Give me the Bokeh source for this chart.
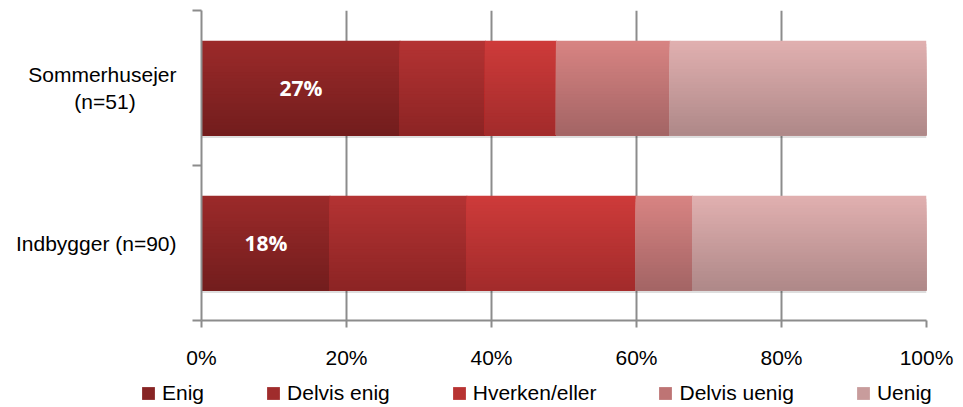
from bokeh.plotting import figure
from bokeh.layouts import column
from bokeh.models import (ColumnDataSource, Range1d, FixedTicker, PrintfTickFormatter,
                          Legend, LegendItem)
from bokeh.core.properties import value
from bokeh.embed import file_html
from bokeh.resources import INLINE

# ---- data ----
NBSP = "\u00a0"
categories = ["Sommerhusejer\n(n=51)" + NBSP * 7, "Indbygger (n=90)"]   # top to bottom
series = ["Enig", "Delvis enig", "Hverken/eller", "Delvis uenig", "Uenig"]
sommerhusejer = [27.45, 11.76, 9.80, 15.69, 35.29]
indbygger = [17.78, 18.89, 23.33, 7.78, 32.22]
tick_values = [0, 20, 40, 60, 80, 100]

values = [sommerhusejer, indbygger]
cat_pos = [1.5, 0.5]
top_colors = ["#9C2A2A", "#B43333", "#CE3B3A", "#D88483", "#E1B0B0"]
bot_colors = ["#721D1D", "#8C2424", "#A22B2B", "#A36464", "#AE8888"]
BAR_H = 0.61
N = 30


def hex2rgb(h):
    return tuple(int(h[i:i + 2], 16) for i in (1, 3, 5))


def mix(c1, c2, t):
    a, b = hex2rgb(c1), hex2rgb(c2)
    return "#%02x%02x%02x" % tuple(round(a[i] + (b[i] - a[i]) * t) for i in range(3))


p = figure(frame_width=725, frame_height=310, output_backend="svg", toolbar_location=None,
           x_range=Range1d(0, 100), y_range=Range1d(0, 2),
           min_border_left=201, min_border_right=28, min_border_top=10, min_border_bottom=56)
p.outline_line_color = None
p.background_fill_color = "white"
p.border_fill_color = "white"

# grid
p.xgrid.ticker = FixedTicker(ticks=tick_values)
p.xgrid.grid_line_color = "#8C8C8C"
p.xgrid.grid_line_width = 2
p.ygrid.grid_line_color = None

# shadow
p.hbar(y=[c - 0.018 for c in cat_pos], left=0, right=100.35, height=BAR_H,
       fill_color="#000000", fill_alpha=0.13, line_color=None)

# gradient segments: each strip runs from its own top down to the bar bottom
for si, name in enumerate(series):
    ys, hs, lefts, rights, cols = [], [], [], [], []
    for ci, vals in enumerate(values):
        start = sum(vals[:si])
        end = start + vals[si]
        bottom = cat_pos[ci] - BAR_H / 2
        for k in range(N):
            top = cat_pos[ci] + BAR_H / 2 - k * BAR_H / N
            t = (k + 0.5) / N
            ys.append((top + bottom) / 2)
            hs.append(top - bottom)
            lefts.append(start - (0.12 if si > 0 else 0))
            rights.append(end)
            cols.append(mix(top_colors[si], bot_colors[si], t))
    src = ColumnDataSource(dict(y=ys, h=hs, left=lefts, right=rights, color=cols))
    p.hbar(y="y", left="left", right="right", height="h",
           fill_color="color", line_color=None, source=src)

# data labels for "Enig"
lx = [v[0] / 2 for v in values]
lt = ["%d%%" % round(v[0]) for v in values]
p.text(x=lx, y=cat_pos, text=lt, text_color="white", text_font=value("Open Sans"),
       text_font_style="bold", text_font_size="21px", text_align="center",
       text_baseline="middle")

# x axis
xa = p.xaxis[0]
xa.ticker = FixedTicker(ticks=tick_values)
xa.formatter = PrintfTickFormatter(format="%d%%")
xa.axis_line_color = "#8C8C8C"
xa.axis_line_width = 2
xa.major_tick_line_color = "#8C8C8C"
xa.major_tick_line_width = 2
xa.major_tick_out = 7
xa.major_tick_in = 0
xa.minor_tick_line_color = None
xa.major_label_text_font = "Liberation Sans"
xa.major_label_text_font_size = "21px"
xa.major_label_text_color = "black"
xa.major_label_standoff = 18

# y axis
ya = p.yaxis[0]
ya.ticker = FixedTicker(ticks=cat_pos, minor_ticks=[0, 1, 2])
ya.major_label_overrides = {cat_pos[i]: categories[i] for i in range(len(categories))}
ya.axis_line_color = "#8C8C8C"
ya.axis_line_width = 2
ya.major_tick_line_color = None
ya.major_tick_out = 0
ya.major_tick_in = 0
ya.minor_tick_line_color = "#8C8C8C"
ya.minor_tick_line_width = 2
ya.minor_tick_out = 9
ya.minor_tick_in = 0
ya.major_label_text_font = "Liberation Sans"
ya.major_label_text_font_size = "21px"
ya.major_label_text_color = "black"
ya.major_label_standoff = 16

# ---- legend strip (separate small figure below; its own view range keeps the
#      series bars it carries out of sight, only the legend is shown) ----
lg = figure(width=954, height=29, output_backend="svg", toolbar_location=None,
            x_range=Range1d(0, 100), y_range=Range1d(10, 11),
            x_axis_location=None, y_axis_location=None,
            min_border_left=0, min_border_right=0, min_border_top=0, min_border_bottom=0)
lg.outline_line_color = None
lg.background_fill_alpha = 0
lg.border_fill_alpha = 0
lg.xgrid.grid_line_color = None
lg.ygrid.grid_line_color = None
for fig in (p, lg):
    try:
        fig.frame_align = False
    except Exception:
        pass
items = []
for si, name in enumerate(series):
    starts = [sum(v[:si]) for v in values]
    ends = [sum(v[:si + 1]) for v in values]
    r = lg.hbar(y=cat_pos, left=starts, right=ends, height=BAR_H,
                fill_color=mix(top_colors[si], bot_colors[si], 0.5), line_color=None)
    items.append(LegendItem(label=name, renderers=[r]))
legend = Legend(items=items, orientation="horizontal", location=(140, 0),
                glyph_width=16, glyph_height=16, label_standoff=6, spacing=61,
                label_text_font="Liberation Sans", label_text_font_size="21px",
                label_text_color="black", border_line_color=None,
                background_fill_alpha=0, padding=0, margin=0, label_height=22)
lg.add_layout(legend, "center")

layout = column(p, lg, spacing=0)
open("out.html", "w").write(file_html(layout, INLINE))
